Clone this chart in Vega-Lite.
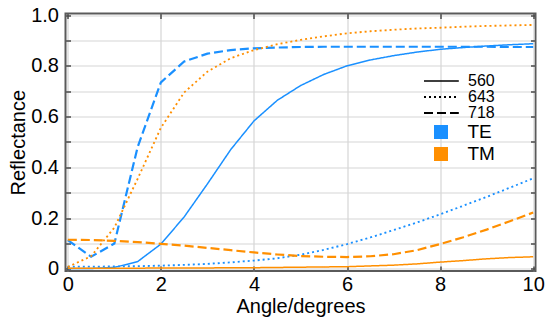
{
  "$schema": "https://vega.github.io/schema/vega-lite/v6.json",
  "width": 470,
  "height": 257.5,
  "autosize": "none",
  "padding": {"left": 65.5, "top": 13.5, "right": 14.5, "bottom": 49},
  "background": "white",
  "config": {
    "font": "Liberation Sans",
    "view": {"stroke": "#5a5a5a", "strokeWidth": 2},
    "axis": {"labelFont": "Liberation Sans", "titleFont": "Liberation Sans", "labelColor": "black", "titleColor": "black", "titleFontWeight": "normal", "labelFontSize": 20, "titleFontSize": 20, "domain": false, "gridColor": "#d6d6d6", "gridWidth": 1.2, "tickColor": "#4a4a4a", "tickWidth": 1.5}
  },
  "data": {"values": [
    {"a":0,"r":0.002,"p":"TE","w":"560"},{"a":0.5,"r":0.002,"p":"TE","w":"560"},{"a":1,"r":0.006,"p":"TE","w":"560"},{"a":1.5,"r":0.029,"p":"TE","w":"560"},{"a":2,"r":0.098,"p":"TE","w":"560"},{"a":2.5,"r":0.205,"p":"TE","w":"560"},{"a":3,"r":0.335,"p":"TE","w":"560"},{"a":3.5,"r":0.47,"p":"TE","w":"560"},{"a":4,"r":0.583,"p":"TE","w":"560"},{"a":4.5,"r":0.664,"p":"TE","w":"560"},{"a":5,"r":0.722,"p":"TE","w":"560"},{"a":5.5,"r":0.766,"p":"TE","w":"560"},{"a":6,"r":0.8,"p":"TE","w":"560"},{"a":6.5,"r":0.823,"p":"TE","w":"560"},{"a":7,"r":0.84,"p":"TE","w":"560"},{"a":7.5,"r":0.854,"p":"TE","w":"560"},{"a":8,"r":0.865,"p":"TE","w":"560"},{"a":8.5,"r":0.872,"p":"TE","w":"560"},{"a":9,"r":0.878,"p":"TE","w":"560"},{"a":9.5,"r":0.883,"p":"TE","w":"560"},{"a":10,"r":0.887,"p":"TE","w":"560"},
    {"a":0,"r":0.009,"p":"TE","w":"643"},{"a":0.5,"r":0.009,"p":"TE","w":"643"},{"a":1,"r":0.01,"p":"TE","w":"643"},{"a":1.5,"r":0.011,"p":"TE","w":"643"},{"a":2,"r":0.013,"p":"TE","w":"643"},{"a":2.5,"r":0.016,"p":"TE","w":"643"},{"a":3,"r":0.02,"p":"TE","w":"643"},{"a":3.5,"r":0.026,"p":"TE","w":"643"},{"a":4,"r":0.033,"p":"TE","w":"643"},{"a":4.5,"r":0.042,"p":"TE","w":"643"},{"a":5,"r":0.056,"p":"TE","w":"643"},{"a":5.5,"r":0.075,"p":"TE","w":"643"},{"a":6,"r":0.098,"p":"TE","w":"643"},{"a":6.5,"r":0.124,"p":"TE","w":"643"},{"a":7,"r":0.153,"p":"TE","w":"643"},{"a":7.5,"r":0.183,"p":"TE","w":"643"},{"a":8,"r":0.215,"p":"TE","w":"643"},{"a":8.5,"r":0.249,"p":"TE","w":"643"},{"a":9,"r":0.284,"p":"TE","w":"643"},{"a":9.5,"r":0.32,"p":"TE","w":"643"},{"a":10,"r":0.357,"p":"TE","w":"643"},
    {"a":0,"r":0.114,"p":"TE","w":"718"},{"a":0.5,"r":0.048,"p":"TE","w":"718"},{"a":1,"r":0.1,"p":"TE","w":"718"},{"a":1.5,"r":0.48,"p":"TE","w":"718"},{"a":2,"r":0.735,"p":"TE","w":"718"},{"a":2.5,"r":0.817,"p":"TE","w":"718"},{"a":3,"r":0.848,"p":"TE","w":"718"},{"a":3.5,"r":0.862,"p":"TE","w":"718"},{"a":4,"r":0.869,"p":"TE","w":"718"},{"a":4.5,"r":0.872,"p":"TE","w":"718"},{"a":5,"r":0.874,"p":"TE","w":"718"},{"a":5.5,"r":0.875,"p":"TE","w":"718"},{"a":6,"r":0.875,"p":"TE","w":"718"},{"a":6.5,"r":0.875,"p":"TE","w":"718"},{"a":7,"r":0.875,"p":"TE","w":"718"},{"a":7.5,"r":0.875,"p":"TE","w":"718"},{"a":8,"r":0.875,"p":"TE","w":"718"},{"a":8.5,"r":0.875,"p":"TE","w":"718"},{"a":9,"r":0.875,"p":"TE","w":"718"},{"a":9.5,"r":0.874,"p":"TE","w":"718"},{"a":10,"r":0.874,"p":"TE","w":"718"},
    {"a":0,"r":0.003,"p":"TM","w":"560"},{"a":0.5,"r":0.003,"p":"TM","w":"560"},{"a":1,"r":0.003,"p":"TM","w":"560"},{"a":1.5,"r":0.003,"p":"TM","w":"560"},{"a":2,"r":0.004,"p":"TM","w":"560"},{"a":2.5,"r":0.004,"p":"TM","w":"560"},{"a":3,"r":0.004,"p":"TM","w":"560"},{"a":3.5,"r":0.005,"p":"TM","w":"560"},{"a":4,"r":0.005,"p":"TM","w":"560"},{"a":4.5,"r":0.006,"p":"TM","w":"560"},{"a":5,"r":0.007,"p":"TM","w":"560"},{"a":5.5,"r":0.008,"p":"TM","w":"560"},{"a":6,"r":0.009,"p":"TM","w":"560"},{"a":6.5,"r":0.012,"p":"TM","w":"560"},{"a":7,"r":0.015,"p":"TM","w":"560"},{"a":7.5,"r":0.02,"p":"TM","w":"560"},{"a":8,"r":0.027,"p":"TM","w":"560"},{"a":8.5,"r":0.033,"p":"TM","w":"560"},{"a":9,"r":0.04,"p":"TM","w":"560"},{"a":9.5,"r":0.045,"p":"TM","w":"560"},{"a":10,"r":0.048,"p":"TM","w":"560"},
    {"a":0,"r":0.008,"p":"TM","w":"643"},{"a":0.5,"r":0.05,"p":"TM","w":"643"},{"a":1,"r":0.163,"p":"TM","w":"643"},{"a":1.5,"r":0.355,"p":"TM","w":"643"},{"a":2,"r":0.556,"p":"TM","w":"643"},{"a":2.5,"r":0.695,"p":"TM","w":"643"},{"a":3,"r":0.777,"p":"TM","w":"643"},{"a":3.5,"r":0.83,"p":"TM","w":"643"},{"a":4,"r":0.862,"p":"TM","w":"643"},{"a":4.5,"r":0.885,"p":"TM","w":"643"},{"a":5,"r":0.902,"p":"TM","w":"643"},{"a":5.5,"r":0.916,"p":"TM","w":"643"},{"a":6,"r":0.928,"p":"TM","w":"643"},{"a":6.5,"r":0.936,"p":"TM","w":"643"},{"a":7,"r":0.942,"p":"TM","w":"643"},{"a":7.5,"r":0.947,"p":"TM","w":"643"},{"a":8,"r":0.95,"p":"TM","w":"643"},{"a":8.5,"r":0.954,"p":"TM","w":"643"},{"a":9,"r":0.957,"p":"TM","w":"643"},{"a":9.5,"r":0.959,"p":"TM","w":"643"},{"a":10,"r":0.961,"p":"TM","w":"643"},
    {"a":0,"r":0.115,"p":"TM","w":"718"},{"a":0.5,"r":0.114,"p":"TM","w":"718"},{"a":1,"r":0.111,"p":"TM","w":"718"},{"a":1.5,"r":0.106,"p":"TM","w":"718"},{"a":2,"r":0.099,"p":"TM","w":"718"},{"a":2.5,"r":0.092,"p":"TM","w":"718"},{"a":3,"r":0.083,"p":"TM","w":"718"},{"a":3.5,"r":0.074,"p":"TM","w":"718"},{"a":4,"r":0.065,"p":"TM","w":"718"},{"a":4.5,"r":0.057,"p":"TM","w":"718"},{"a":5,"r":0.051,"p":"TM","w":"718"},{"a":5.5,"r":0.048,"p":"TM","w":"718"},{"a":6,"r":0.047,"p":"TM","w":"718"},{"a":6.5,"r":0.05,"p":"TM","w":"718"},{"a":7,"r":0.058,"p":"TM","w":"718"},{"a":7.5,"r":0.074,"p":"TM","w":"718"},{"a":8,"r":0.098,"p":"TM","w":"718"},{"a":8.5,"r":0.125,"p":"TM","w":"718"},{"a":9,"r":0.155,"p":"TM","w":"718"},{"a":9.5,"r":0.188,"p":"TM","w":"718"},{"a":10,"r":0.222,"p":"TM","w":"718"}
  ]},
  "layer": [
    {
      "mark": {"type": "line", "opacity": 0},
      "encoding": {
        "x": {"field": "a", "type": "quantitative", "scale": {"domain": [-0.05, 10.05], "nice": false, "zero": false},
              "axis": {"orient": "top", "values": [0, 2, 4, 6, 8, 10], "labels": false, "grid": false, "ticks": true, "tickSize": -5, "title": null}},
        "y": {"field": "r", "type": "quantitative", "scale": {"domain": [-0.008, 1.006], "nice": false, "zero": false},
              "axis": {"orient": "right", "values": [0, 0.1, 0.2, 0.3, 0.4, 0.5, 0.6, 0.7, 0.8, 0.9, 1.0], "labels": false, "grid": false, "ticks": true, "tickSize": -5, "title": null}},
        "detail": {"field": "w"}
      }
    },
    {
      "mark": {"type": "line"},
      "encoding": {
        "x": {"field": "a", "type": "quantitative", "scale": {"domain": [-0.05, 10.05], "nice": false, "zero": false},
              "axis": {"orient": "bottom", "values": [0, 2, 4, 6, 8, 10], "format": "d", "grid": true, "ticks": true, "tickSize": -5, "labelPadding": 8, "title": "Angle/degrees", "titlePadding": 2}},
        "y": {"field": "r", "type": "quantitative", "scale": {"domain": [-0.008, 1.006], "nice": false, "zero": false},
              "axis": {"orient": "left", "values": [0, 0.1, 0.2, 0.3, 0.4, 0.5, 0.6, 0.7, 0.8, 0.9, 1.0], "grid": true, "ticks": true, "tickSize": -5, "labelPadding": 12,
                       "labelExpr": "datum.value < 0.001 ? '0' : (round(datum.value * 10) % 2 == 0 ? format(datum.value, '.1f') : '')",
                       "title": "Reflectance", "titlePadding": 2}},
        "color": {"field": "p", "type": "nominal", "scale": {"domain": ["TE", "TM"], "range": ["#1a90ff", "#ff8f00"]},
                  "legend": {"title": null, "orient": "none", "legendX": 366, "legendY": 109, "padding": 0, "symbolType": "square", "symbolSize": 196, "symbolStrokeWidth": 0, "labelFontSize": 19, "labelOffset": 17, "rowPadding": 2, "labelColor": "black", "labelFont": "Liberation Sans",
                             "encode": {"symbols": {"update": {"fill": {"scale": "color", "field": "value"}, "stroke": {"value": "transparent"}, "opacity": {"value": 1}}}}}},
        "strokeDash": {"field": "w", "type": "nominal", "scale": {"domain": ["560", "643", "718"], "range": [[1, 0], [2, 3], [9, 4]]},
                       "legend": {"title": null, "orient": "none", "legendX": 356.5, "legendY": 59.5, "padding": 0, "symbolType": "M-1,0H4.8", "symbolSize": 144, "symbolStrokeWidth": 2.5, "symbolStrokeColor": "black", "labelFontSize": 16, "labelOffset": 30, "rowPadding": 0, "labelColor": "black", "labelFont": "Liberation Sans"}},
        "strokeWidth": {"field": "w", "type": "nominal", "scale": {"domain": ["560", "643", "718"], "range": [1.5, 2.2, 1.8]}, "legend": null}
      }
    }
  ],
  "resolve": {"axis": {"x": "independent", "y": "independent"}}
}
